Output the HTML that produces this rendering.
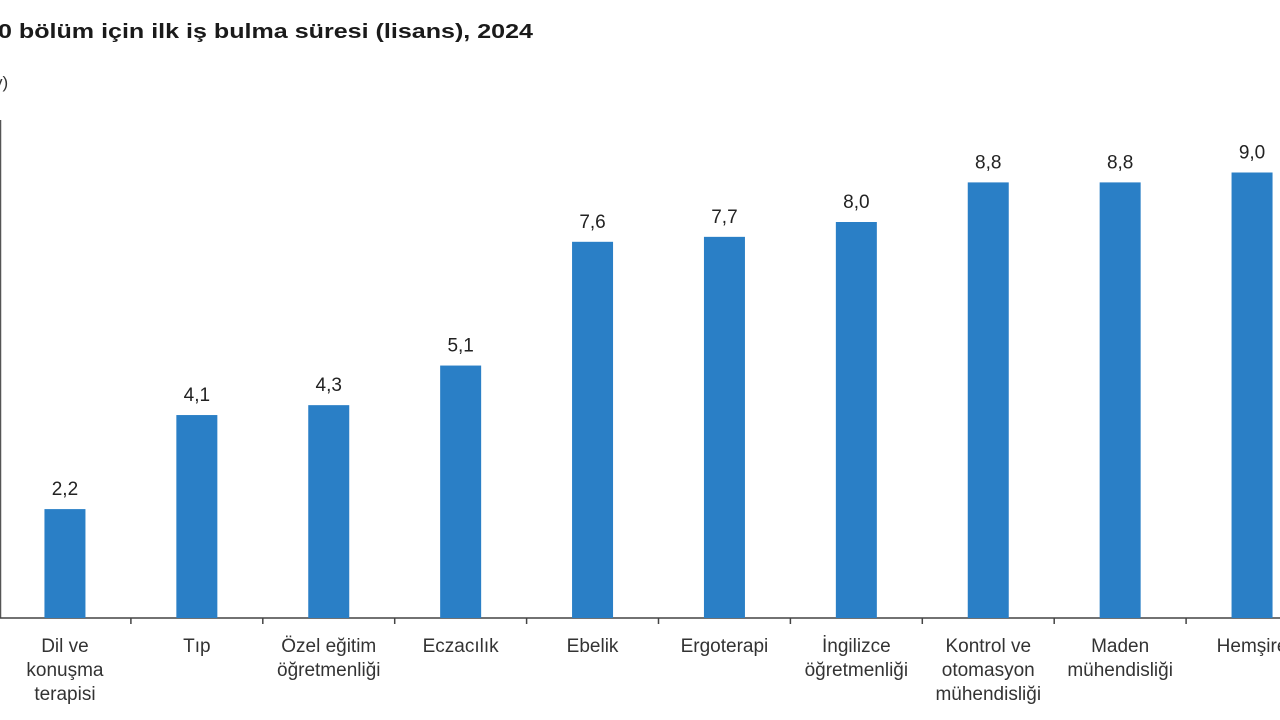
<!DOCTYPE html>
<html><head><meta charset="utf-8"><style>
html,body{margin:0;padding:0;background:#fff;width:1280px;height:720px;overflow:hidden;font-family:"Liberation Sans",Arial,sans-serif}
svg{display:block}
</style></head><body>
<svg id="chart" width="1280" height="720" xmlns="http://www.w3.org/2000/svg">
<text x="-2" y="38" font-size="20" font-weight="bold" fill="#1a1a1a" textLength="535" lengthAdjust="spacingAndGlyphs">0 bölüm için ilk iş bulma süresi (lisans), 2024</text>
<text x="-6" y="88" font-size="17" fill="#333">y)</text>
<g id="plot"></g>
</svg>
<script>
const categories = [["Dil ve","konuşma","terapisi"],["Tıp"],["Özel eğitim","öğretmenliği"],["Eczacılık"],["Ebelik"],["Ergoterapi"],["İngilizce","öğretmenliği"],["Kontrol ve","otomasyon","mühendisliği"],["Maden","mühendisliği"],["Hemşire"]];
const values = [2.2,4.1,4.3,5.1,7.6,7.7,8.0,8.8,8.8,9.0];
const valueLabels = ["2,2","4,1","4,3","5,1","7,6","7,7","8,0","8,8","8,8","9,0"];
const yMax = 10;

const NS="http://www.w3.org/2000/svg";
const plotG=document.getElementById('plot');
const X0=-1, SLOT=131.9, BASE=618, TOPY=123, BARW=41;
const yScale=v=>BASE-(v/yMax)*(BASE-TOPY);
const xc=i=>X0+SLOT*(i+0.5);
function mk(t,a){const e=document.createElementNS(NS,t);for(const k in a)e.setAttribute(k,a[k]);plotG.appendChild(e);return e;}
let ax=mk('line',{x1:0.5,y1:120,x2:0.5,y2:BASE,stroke:'#555','stroke-width':1.5});


let bx=mk('line',{x1:0,y1:BASE,x2:1280,y2:BASE,stroke:'#444','stroke-width':1.5});


for(let i=1;i<categories.length;i++){
  const t=mk('line',{x1:X0+SLOT*i,y1:BASE,x2:X0+SLOT*i,y2:BASE+6,stroke:'#444','stroke-width':1.5});
  
  
}
values.forEach((v,i)=>{
  const r=mk('rect',{x:xc(i)-BARW/2,y:yScale(v),width:BARW,height:BASE-yScale(v),fill:'#2a7fc6'});
  
  
  const l=mk('text',{x:xc(i),y:yScale(v)-14,'text-anchor':'middle','font-size':19,fill:'#222'});
  l.textContent=valueLabels[i];
  
  
  categories[i].forEach((ln,j)=>{
    const c=mk('text',{x:xc(i),y:652+j*24,'text-anchor':'middle','font-size':19,fill:'#333'});
    c.textContent=ln;
    
    
  });
});
</script>
</body></html>
